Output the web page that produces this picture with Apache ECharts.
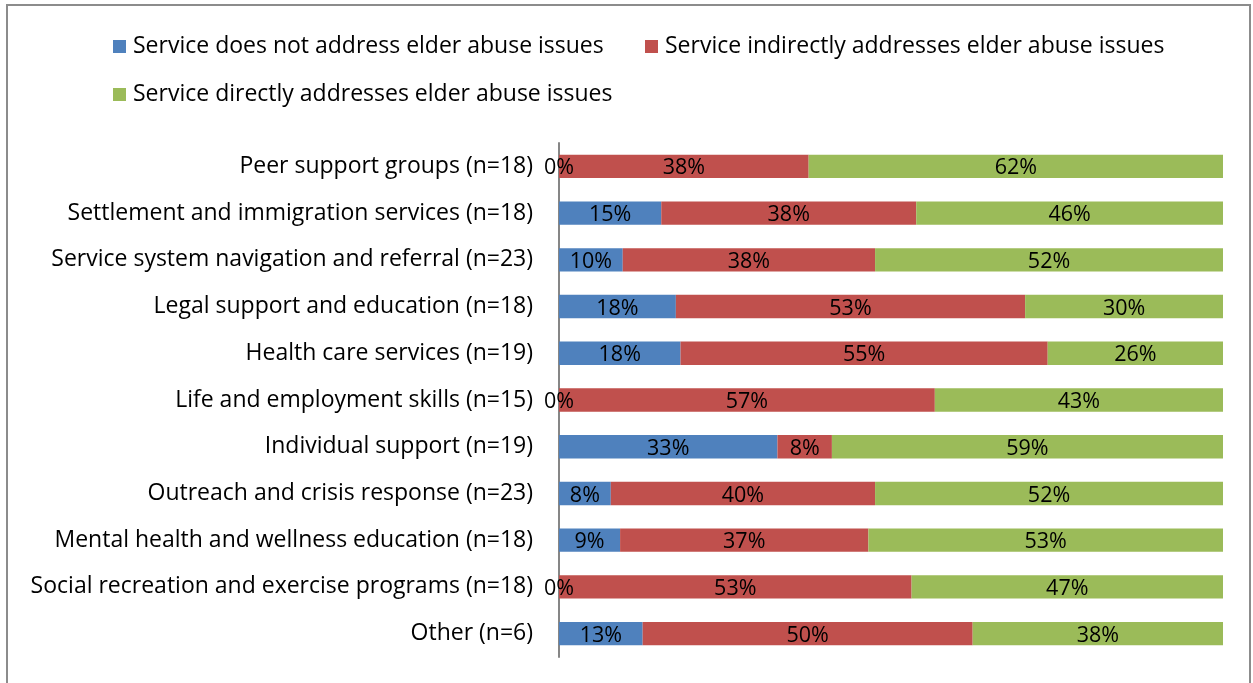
<!DOCTYPE html>
<html>
<head>
<meta charset="utf-8">
<script src="https://cdn.jsdelivr.net/npm/echarts@6/dist/echarts.min.js"></script>
<style>
  html, body { margin: 0; padding: 0; background: #fff; }
  #chart { width: 1253px; height: 683px; }
</style>
</head>
<body>
<div id="chart"></div>
<script>
// Service categories, top to bottom
const categories = [
  'Peer support groups (n=18)',
  'Settlement and immigration services (n=18)',
  'Service system navigation and referral (n=23)',
  'Legal support and education (n=18)',
  'Health care services (n=19)',
  'Life and employment skills (n=15)',
  'Individual support (n=19)',
  'Outreach and crisis response (n=23)',
  'Mental health and wellness education (n=18)',
  'Social recreation and exercise programs (n=18)',
  'Other (n=6)'
];

const seriesNames = [
  'Service does not address elder abuse issues',
  'Service indirectly addresses elder abuse issues',
  'Service directly addresses elder abuse issues'
];

// Share of services (%) in each category
const notAddressed = [0, 15.4, 9.6, 17.6, 18.3, 0, 32.9, 7.8, 9.2, 0, 12.6];
const indirect     = [37.6, 38.4, 38.0, 52.6, 55.3, 56.6, 8.2, 39.8, 37.4, 53.1, 49.7];
const direct       = [62.4, 46.2, 52.4, 29.8, 26.4, 43.4, 58.9, 52.4, 53.4, 46.9, 37.7];

const colors = ['#4F81BD', '#C0504D', '#9BBB59'];
const FONT = 'Open Sans';

const chart = echarts.init(document.getElementById('chart'), null, { renderer: 'canvas' });

function barSeries(name, data, color) {
  return {
    name: name,
    type: 'bar',
    stack: 'total',
    data: data,
    barWidth: '50%',
    itemStyle: { color: color },
    label: {
      show: true,
      position: 'inside',
      offset: [0, 2],
      color: '#000',
      fontFamily: FONT,
      fontSize: 21.5,
      formatter: p => Math.round(p.value) + '%'
    },
    emphasis: { disabled: true }
  };
}

function legendItem(name, left, top) {
  return {
    data: [name],
    left: left,
    top: top,
    icon: 'rect',
    itemWidth: 13,
    itemHeight: 13,
    itemGap: 0,
    selectedMode: false,
    textStyle: { fontFamily: FONT, fontSize: 23, color: '#000', padding: [2, 0, 0, 2] }
  };
}

chart.setOption({
  animation: false,
  backgroundColor: '#fff',
  graphic: [{
    type: 'rect',
    shape: { x: 7, y: 5, width: 1243, height: 700 },
    style: { fill: 'none', stroke: '#8c8c8c', lineWidth: 2 },
    silent: true
  }],
  legend: [
    legendItem(seriesNames[0], 108, 30),
    legendItem(seriesNames[1], 640, 30),
    legendItem(seriesNames[2], 108, 78)
  ],
  grid: { left: 559, right: 30, top: 143, bottom: 26, containLabel: false },
  xAxis: {
    type: 'value',
    min: 0,
    max: 100,
    show: false
  },
  yAxis: {
    type: 'category',
    data: categories,
    inverse: true,
    axisTick: { show: false },
    axisLine: { show: true, lineStyle: { color: '#868686', width: 2 } },
    axisLabel: { color: '#000', fontFamily: FONT, fontSize: 23, margin: 26, padding: [8, 0, 0, 0] },
    splitLine: { show: false }
  },
  series: [
    barSeries(seriesNames[0], notAddressed, colors[0]),
    barSeries(seriesNames[1], indirect, colors[1]),
    barSeries(seriesNames[2], direct, colors[2])
  ]
});
</script>
</body>
</html>
